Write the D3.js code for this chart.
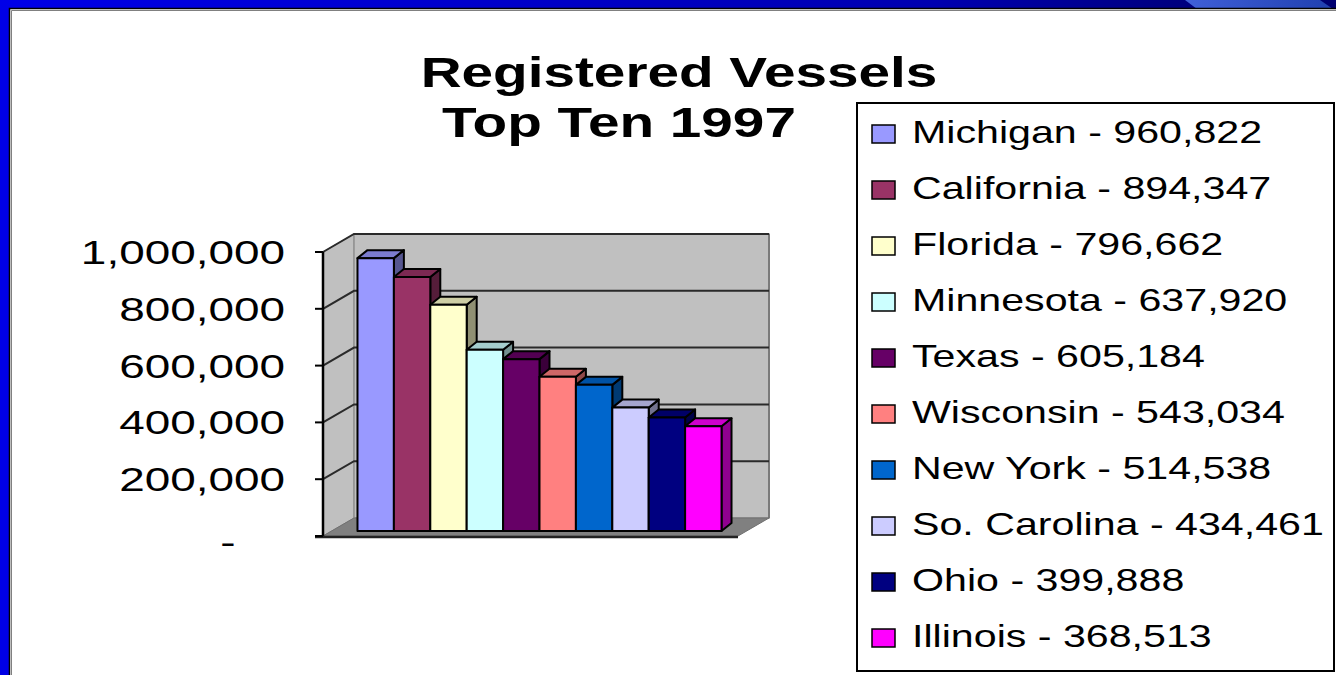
<!DOCTYPE html>
<html><head><meta charset="utf-8">
<script src="https://cdn.jsdelivr.net/npm/d3@7"></script>
<style>html,body{margin:0;padding:0;background:#fff;}svg{display:block;}</style>
</head><body>
<svg id="c" width="1336" height="675"></svg>
<script>
const categories = ["Michigan","California","Florida","Minnesota","Texas","Wisconsin","New York","So. Carolina","Ohio","Illinois"];
const values = [960822, 894347, 796662, 637920, 605184, 543034, 514538, 434461, 399888, 368513];
const valueLabels = ["960,822","894,347","796,662","637,920","605,184","543,034","514,538","434,461","399,888","368,513"];
const colors = ["#9999ff","#993366","#ffffcc","#ccffff","#660066","#ff8080","#0066cc","#ccccff","#000080","#ff00ff"];
const tickValues = [0, 200000, 400000, 600000, 800000, 1000000];
const tickLabels = ["-", "200,000", "400,000", "600,000", "800,000", "1,000,000"];
const titleLines = ["Registered Vessels", "Top Ten 1997"];

const svg = d3.select("#c");
const SX = 1.35; // horizontal stretch of text
const FONT = "'Liberation Sans', Arial, sans-serif";

// background frame
const defs = svg.append("defs");
const g1 = defs.append("linearGradient").attr("id","topg").attr("x1","0").attr("x2","1").attr("y1","0").attr("y2","0");
g1.append("stop").attr("offset","0%").attr("stop-color","#0000e8");
g1.append("stop").attr("offset","70%").attr("stop-color","#0000b0");
g1.append("stop").attr("offset","88%").attr("stop-color","#000080");
g1.append("stop").attr("offset","100%").attr("stop-color","#000070");
const g2 = defs.append("linearGradient").attr("id","stripg").attr("x1","0").attr("x2","1").attr("y1","0").attr("y2","0");
g2.append("stop").attr("offset","0%").attr("stop-color","#4060d8");
g2.append("stop").attr("offset","100%").attr("stop-color","#2040b0");

svg.append("rect").attr("x",0).attr("y",0).attr("width",1336).attr("height",675).attr("fill","#0000e6");
svg.append("rect").attr("x",0).attr("y",0).attr("width",1336).attr("height",9).attr("fill","url(#topg)");
svg.append("path").attr("d","M1185,0 L1320,0 L1333,9 L1197,9 Z").attr("fill","url(#stripg)");
svg.append("rect").attr("x",10).attr("y",9).attr("width",1326).attr("height",666).attr("fill","#fff");
svg.append("path").attr("d","M9.5,675 V8.5 H1336").attr("fill","none").attr("stroke","#000").attr("stroke-width",1.5);
svg.append("path").attr("d","M11.5,675 V10.5 H1336").attr("fill","none").attr("stroke","#808080").attr("stroke-width",1);

// 3D plot geometry
const x0 = 323, x1 = 738;     // front plane
const DX = 31, DY = -18;       // wall depth
const y = d3.scaleLinear().domain([0, 1000000]).range([536, 252]);
const x = d3.scaleBand().domain(categories).range([x0, x1]).paddingInner(0).paddingOuter(0.7);
const bz = {fx: 9, fy: -5, dx: 10, dy: -8}; // bar front offset and depth

const yTop = y(1000000), yBot = y(0);
const plot = svg.append("g");
// left wall
plot.append("path").attr("d",`M${x0},${yTop} L${x0+DX},${yTop+DY} L${x0+DX},${yBot+DY} L${x0},${yBot} Z`)
  .attr("fill","#c0c0c0").attr("stroke","#909090").attr("stroke-width",1);
// back wall
plot.append("rect").attr("x",x0+DX).attr("y",yTop+DY).attr("width",x1-x0).attr("height",yBot-yTop)
  .attr("fill","#c0c0c0").attr("stroke","#909090").attr("stroke-width",1.5);
plot.append("line").attr("x1",x1+DX).attr("x2",x1+DX).attr("y1",yTop+DY).attr("y2",yBot+DY).attr("stroke","#7a7a7a").attr("stroke-width",2);
// floor
plot.append("path").attr("d",`M${x0},${yBot} L${x1},${yBot} L${x1+DX},${yBot+DY} L${x0+DX},${yBot+DY} Z`)
  .attr("fill","#808080").attr("stroke","#707070").attr("stroke-width",1);

// gridlines
tickValues.filter(v => v > 0).forEach(v => {
  const yy = y(v);
  plot.append("path").attr("d",`M${x0},${yy} L${x0+DX},${yy+DY} L${x1+DX},${yy+DY}`)
    .attr("fill","none").attr("stroke","#2a2a2a").attr("stroke-width",2);
});

// bars
categories.forEach((c, i) => {
  const v = values[i];
  const xl = x(c) + bz.fx, xr = x(c) + x.bandwidth() + bz.fx;
  const yb = y(0) + bz.fy, yt = y(v) + bz.fy;
  const col = d3.color(colors[i]);
  const side = col.darker(1.6).formatHex();
  const top = col.darker(0.6).formatHex();
  const gb = plot.append("g").attr("stroke","#000").attr("stroke-width",2).attr("stroke-linejoin","round");
  gb.append("path").attr("d",`M${xr},${yt} L${xr+bz.dx},${yt+bz.dy} L${xr+bz.dx},${yb+bz.dy} L${xr},${yb} Z`).attr("fill",side);
  gb.append("path").attr("d",`M${xl},${yt} L${xl+bz.dx},${yt+bz.dy} L${xr+bz.dx},${yt+bz.dy} L${xr},${yt} Z`).attr("fill",top);
  gb.append("rect").attr("x",xl).attr("y",yt).attr("width",xr-xl).attr("height",yb-yt).attr("fill",colors[i]);
});

// front axis
const axisG = svg.append("g");
axisG.append("line").attr("x1",x0).attr("x2",x0).attr("y1",yTop).attr("y2",yBot+1).attr("stroke","#000").attr("stroke-width",2.5);
axisG.append("line").attr("x1",x0-8).attr("x2",x1).attr("y1",yBot+1).attr("y2",yBot+1).attr("stroke","#222").attr("stroke-width",2.5);
tickValues.forEach((v, i) => {
  axisG.append("line").attr("x1",x0-8).attr("x2",x0).attr("y1",y(v)).attr("y2",y(v)).attr("stroke","#000").attr("stroke-width",2);
  const lx = tickLabels[i] === "-" ? 228 : 285;
  axisG.append("text").attr("transform",`translate(${lx},${y(v)+ (tickLabels[i]==="-"?6:0)}) scale(${SX},1)`)
    .attr("text-anchor", tickLabels[i] === "-" ? "middle" : "end").attr("dy","0.35em")
    .attr("font-family",FONT).attr("font-size",34).attr("fill","#000").text(tickLabels[i]);
});

// title
const titlePos = [[679, 87], [619, 137]];
titleLines.forEach((t, i) => {
  svg.append("text").attr("transform",`translate(${titlePos[i][0]},${titlePos[i][1]}) scale(${SX},1)`)
    .attr("text-anchor","middle").attr("font-family",FONT).attr("font-weight","bold").attr("font-size",42)
    .attr("fill","#000").text(t);
});

// legend
const lg = svg.append("g");
lg.append("rect").attr("x",857).attr("y",103).attr("width",477).attr("height",568).attr("fill","#fff").attr("stroke","#000").attr("stroke-width",2);
categories.forEach((c, i) => {
  const by = 143 + i * 56;
  lg.append("rect").attr("x",872).attr("y",by-18).attr("width",23).attr("height",18).attr("fill",colors[i]).attr("stroke","#000").attr("stroke-width",1.5);
  lg.append("text").attr("transform",`translate(912,${by}) scale(${SX},1)`)
    .attr("font-family",FONT).attr("font-size",30.5).attr("fill","#000").text(`${c} - ${valueLabels[i]}`);
});
</script>
</body></html>
